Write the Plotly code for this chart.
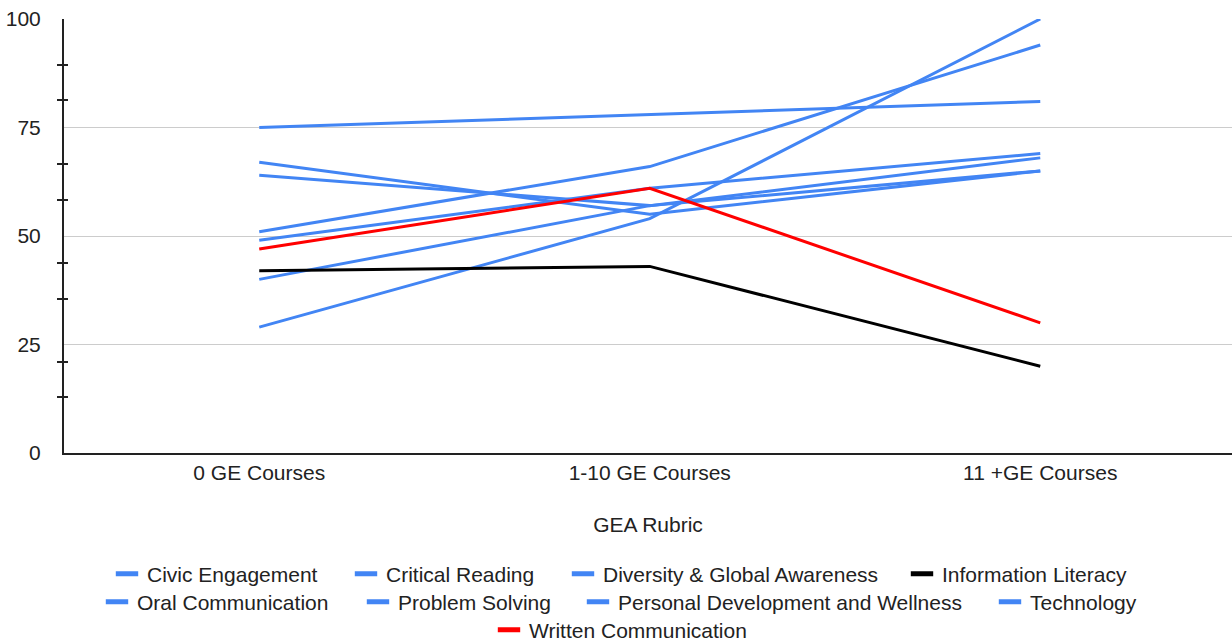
import plotly.graph_objects as go

# Categories along the x axis
categories = ["0 GE Courses", "1-10 GE Courses", "11 +GE Courses"]

# Rubric scores per outcome area
civic_engagement = [75, 78, 81]
critical_reading = [67, 55, 65]
diversity_global = [64, 57, 68]
information_literacy = [42, 43, 20]
oral_communication = [51, 66, 94]
problem_solving = [49, 61, 69]
personal_development = [40, 57, 65]
technology = [29, 54, 100]
written_communication = [47, 61, 30]

# Minor tick positions on the value axis
minor_ticks = [12.8, 21.0, 35.6, 43.7, 58.4, 66.6, 81.3, 89.4]

BLUE = "#4285F4"
RED = "#FF0000"
BLACK = "#000000"

series = [
    ("Civic Engagement", civic_engagement, BLUE),
    ("Critical Reading", critical_reading, BLUE),
    ("Diversity & Global Awareness", diversity_global, BLUE),
    ("Information Literacy", information_literacy, BLACK),
    ("Oral Communication", oral_communication, BLUE),
    ("Problem Solving", problem_solving, BLUE),
    ("Personal Development and Wellness", personal_development, BLUE),
    ("Technology", technology, BLUE),
    ("Written Communication", written_communication, RED),
]

# Legend entry placement (container pixels): left edge of the entry, row centre
W, H = 1232, 642
legend_slots = [
    (107, 574), (346, 574), (563, 574), (902, 574),
    (97, 602), (358, 602), (578, 602), (990, 602),
    (489, 630),
]

fig = go.Figure()

# Draw blue lines first, then black and red on top
order = sorted(range(len(series)), key=lambda i: 0 if series[i][2] == BLUE else 1)
for i in order:
    name, vals, color = series[i]
    fig.add_trace(go.Scatter(
        x=categories, y=vals, mode="lines", name=name,
        line=dict(color=color, width=3), showlegend=False,
        hoverinfo="x+y+name",
    ))

font_family = "Liberation Sans, Arial, sans-serif"
text_color = "#222222"
FS = 21

legends = {}
for k, ((name, vals, color), (lx, ly)) in enumerate(zip(series, legend_slots)):
    key = "legend" if k == 0 else f"legend{k + 1}"
    fig.add_trace(go.Scatter(
        x=[None], y=[None], mode="markers", name=name, legend=key,
        marker=dict(symbol="line-ew", size=18, color=color,
                    line=dict(color=color, width=6)),
        showlegend=True,
    ))
    legends[key] = dict(
        orientation="h", xref="container", yref="container",
        x=lx / W, y=1 - ly / H, xanchor="left", yanchor="middle",
        font=dict(family=font_family, size=FS, color=text_color),
        bgcolor="rgba(0,0,0,0)", itemclick=False, itemdoubleclick=False,
    )

# Invisible trace to activate the overlay axis carrying inner tick marks
fig.add_trace(go.Scatter(x=categories, y=[None, None, None], yaxis="y2",
                         showlegend=False, hoverinfo="skip"))

fig.update_layout(
    width=W, height=H,
    margin=dict(l=64, r=0, t=19, b=189, autoexpand=False),
    plot_bgcolor="white", paper_bgcolor="white",
    font=dict(family=font_family, size=FS, color=text_color),
    xaxis=dict(
        type="category", range=[-0.5, 2.491],
        showgrid=False, showline=True, linecolor="#222222", linewidth=2,
        ticks="", tickfont=dict(size=FS, color=text_color),
        title=dict(text="GEA Rubric", font=dict(size=FS, color=text_color),
                   standoff=34),
        zeroline=False, fixedrange=True,
    ),
    yaxis=dict(
        range=[0, 100], tickvals=[0, 25, 50, 75, 100],
        showgrid=True, gridcolor="#cccccc", gridwidth=1,
        showline=True, linecolor="#222222", linewidth=2,
        ticks="", ticklabelstandoff=17,
        tickfont=dict(size=FS, color=text_color),
        zeroline=False, fixedrange=True,
        minor=dict(tickmode="array", tickvals=minor_ticks, ticks="outside",
                   ticklen=5, tickwidth=2, tickcolor="#222222", showgrid=False),
    ),
    yaxis2=dict(
        overlaying="y", side="left", range=[0, 100],
        tickvals=minor_ticks, ticks="inside", ticklen=4, tickwidth=2,
        tickcolor="#222222", showticklabels=False, showgrid=False,
        showline=False, zeroline=False, fixedrange=True,
    ),
    showlegend=True,
    **legends,
)

fig.write_html("out.html")
